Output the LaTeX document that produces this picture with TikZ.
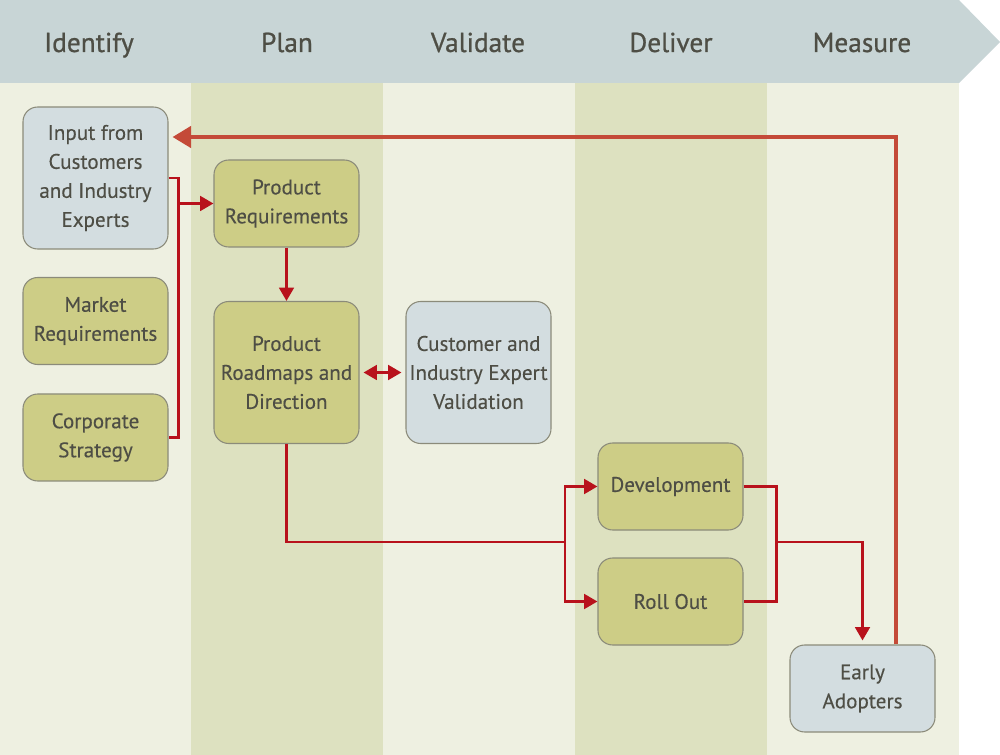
\documentclass[tikz,border=0pt]{standalone}
\usepackage{fontspec}
\setmainfont{PT Sans}
\newfontfamily\headfont[FakeBold=0.8]{PT Sans}
\newfontfamily\boxfont[FakeBold=0.3]{PT Sans}
\usetikzlibrary{arrows.meta, positioning, calc}

\definecolor{headfill}{HTML}{C8D5D6}
\definecolor{lightstripe}{HTML}{EEF0E1}
\definecolor{darkstripe}{HTML}{DDE1C0}
\definecolor{olivefill}{HTML}{CDCD86}
\definecolor{bluefill}{HTML}{D3DDE0}
\definecolor{boxline}{HTML}{8B8B7A}
\definecolor{linkred}{HTML}{B8121C}
\definecolor{backred}{HTML}{C44A38}
\definecolor{ink}{HTML}{4E4E45}

\begin{document}
\begin{tikzpicture}[x=0.75pt,y=-0.75pt,
				>={Triangle[length=10pt,width=11pt]},
				box/.style={draw=boxline,line width=0.8pt,rounded corners=11pt,
					minimum width=108.75pt,minimum height=65.25pt,inner sep=2pt,
					align=center,text=ink,font=\boxfont\fontsize{15.8}{21.75}\selectfont},
				tall box/.style={minimum height=106.5pt},
				olive box/.style={box,fill=olivefill},
				blue box/.style={box,fill=bluefill},
				phase/.style={text=ink,anchor=base,font=\headfont\fontsize{20.5}{24}\selectfont},
				link/.style={draw=linkred,line width=2pt},
				back link/.style={draw=backred,line width=3pt,
					-{Triangle[length=14pt,width=16pt]},shorten >=3pt}]
				
				\useasboundingbox (0,0) rectangle (1000,755);
				
				% stripes and header
				\fill[lightstripe] (0,83) rectangle (959,755);
				\foreach \x in {191,575}
				\fill[darkstripe] (\x,83) rectangle ++(192,672);
				\fill[headfill] (0,0) -- (959,0) -- (1000,42) -- (959,83) -- (0,83) -- cycle;
				
				\foreach \x/\name in {89/Identify,287/Plan,478/Validate,671/Deliver,862/Measure}
				\node[phase] (ph-\name) at (\x,52) {\name};
				
				% boxes
				\node[blue box,tall box] (input) at (95.5,178) {Input from\\Customers\\and Industry\\Experts};
				\node[olive box] (market) at (95.5,321) {Market\\Requirements};
				\node[olive box] (strategy) at (95.5,437.5) {Corporate\\Strategy};
				\node[olive box] (prodreq) at (286.5,203.5) {Product\\Requirements};
				\node[olive box,tall box] (roadmap) at (286.5,372.5) {Product\\Roadmaps and\\Direction};
				\node[blue box,tall box] (validation) at (478.5,372.5) {Customer and\\Industry Expert\\Validation};
				\node[olive box] (dev) at (670.5,486.5) {Development};
				\node[olive box] (rollout) at (670.5,601.5) {Roll Out};
				\node[blue box] (early) at (862.5,688.5) {Early\\Adopters};
				
				% connectors
				\draw[link] (input.east) -- ++(10,0) coordinate (j1) |- (strategy.east);
				\draw[link,->] (j1 |- prodreq.west) -- (prodreq.west);
				\draw[link,->] (prodreq.south) -- (roadmap.north);
				\draw[link,<->,shorten <=3pt,shorten >=3pt] (roadmap.east) -- (validation.west);
				
				\coordinate (j2) at (565,542);
				\draw[link] (roadmap.south) |- (j2);
				\draw[link,->] (j2) |- (dev.west);
				\draw[link,->] (j2) |- (rollout.west);
				
				\draw[link] (dev.east) -- ++(33,0) coordinate (j3) |- (rollout.east);
				\draw[link,->,shorten >=3pt] (j3 |- j2) -| (early.north);
				
				\coordinate (turn) at (896,137);
				\draw[back link] (early.north -| turn) -- (turn) -- (input.east |- turn);
			\end{tikzpicture}
\end{document}
